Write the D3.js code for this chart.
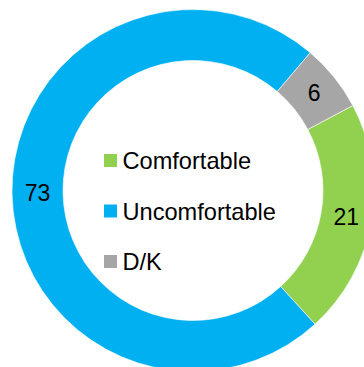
<!DOCTYPE html>
<html>
<head>
<meta charset="utf-8">
<script src="https://cdn.jsdelivr.net/npm/d3@7"></script>
<style>
html, body {
  margin: 0;
  padding: 0;
  width: 364px;
  height: 367px;
  overflow: hidden;
  background: #fff;
}
text {
  font-family: "Liberation Sans", Arial, sans-serif;
  fill: #000;
}
</style>
</head>
<body>
<script>

var categories = ['Comfortable', 'Uncomfortable', 'D/K'],
    values = [21, 73, 6],
    colors = ['#92D050', '#00B0F0', '#A6A6A6'];

var w = 364,
    h = 367,
    cx = 193,
    cy = 190.5,
    outerR = 181,
    innerR = 130;

var svg = d3.select('body').append('svg')
  .attr('width', w)
  .attr('height', h);

var data = categories.map(function(c, i) {
  return { name: c, value: values[i], color: colors[i] };
});

// first slice starts a bit past 60 degrees, clockwise like excel
var start = 62 * Math.PI / 180;

var pie = d3.pie()
  .sort(null)
  .value(function(d) { return d.value; })
  .startAngle(start)
  .endAngle(start + 2 * Math.PI);

var arc = d3.arc()
  .innerRadius(innerR)
  .outerRadius(outerR);

var g = svg.append('g')
  .attr('transform', 'translate(' + cx + ',' + cy + ')');

var slices = g.selectAll('g.slice')
  .data(pie(data))
  .enter().append('g')
  .attr('class', 'slice');

slices.append('path')
  .attr('d', arc)
  .style('fill', function(d) { return d.data.color; })
  .style('stroke', '#fff')
  .style('stroke-width', 0.6);

slices.append('text')
  .attr('transform', function(d) { return 'translate(' + arc.centroid(d) + ')'; })
  .attr('text-anchor', 'middle')
  .attr('dy', '0.36em')
  .style('font-size', '23px')
  .text(function(d) { return d.data.value; });

// legend inside the hole
var legend = svg.append('g')
  .attr('transform', 'translate(104,0)');

var rowY = d3.scalePoint()
  .domain(categories)
  .range([160.5, 261.5]);

var rows = legend.selectAll('g.row')
  .data(data)
  .enter().append('g')
  .attr('class', 'row')
  .attr('transform', function(d) { return 'translate(0,' + rowY(d.name) + ')'; });

rows.append('rect')
  .attr('x', 0)
  .attr('y', -6.5)
  .attr('width', 13)
  .attr('height', 13)
  .style('fill', function(d) { return d.color; });

rows.append('text')
  .attr('x', 18.5)
  .attr('dy', '0.36em')
  .style('font-size', '23.6px')
  .text(function(d) { return d.name; });

</script>
</body>
</html>
